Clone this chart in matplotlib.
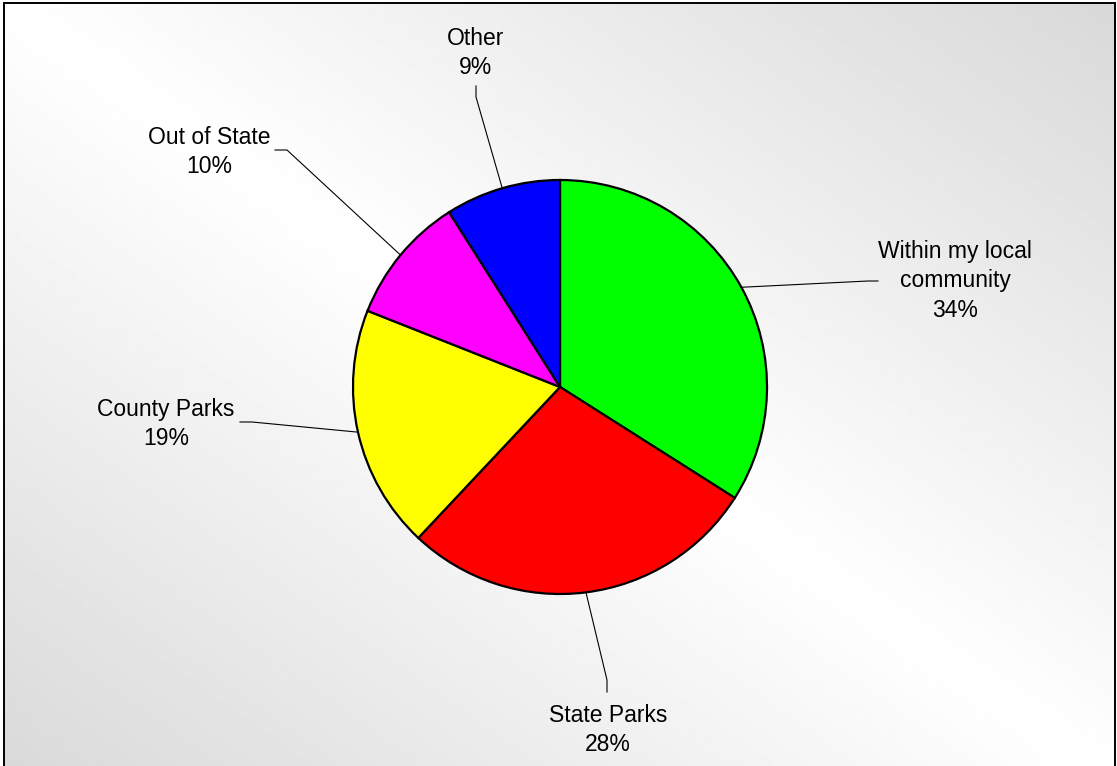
import numpy as np
import matplotlib.pyplot as plt
from matplotlib.patches import Rectangle

# Where people spend their outdoor time
categories = ["Within my local\ncommunity", "State Parks", "County Parks", "Out of State", "Other"]
shares = [34, 28, 19, 10, 9]
colors = ["#00ff00", "#ff0000", "#ffff00", "#ff00ff", "#0000ff"]

W, H = 1117, 766
plt.rcParams['font.family'] = ['Liberation Sans', 'DejaVu Sans']


def px(x, y):
    # pixel coordinates (y down) -> axes data coordinates (y up)
    return x, H - y


fig = plt.figure(figsize=(W / 100, H / 100), dpi=100)
ax = fig.add_axes([0, 0, 1, 1])

# diagonal gradient background: white along the main diagonal, grey toward the other corners
left, top, right, bottom = 4, 3, 1115, 780
gx = np.linspace(0, 1, 600)
gy = np.linspace(0, 1, 420)
u, v = np.meshgrid(gx, gy)
shade = 1 - 0.15 * np.abs(u - v)
ax.imshow(shade, cmap='gray', vmin=0, vmax=1, aspect='auto', origin='upper',
          extent=(left, right, H - bottom, H - top), zorder=0, interpolation='bilinear')
ax.add_patch(Rectangle((left, H - bottom), right - left, bottom - top,
                       fill=False, edgecolor='black', linewidth=1.4, zorder=5))

cx, cy = px(560, 387)
radius = 207
ax.pie(shares, colors=colors, startangle=90, counterclock=False,
       center=(cx, cy), radius=radius,
       wedgeprops=dict(edgecolor='black', linewidth=1.6))

# label text centres and leader elbows (pixel coords)
label_pos = [(955, 281), (608, 730), (166, 424), (209, 152), (476, 53)]
elbows = [[(868, 281), (878, 281)],
          [(607, 680), (607, 692)],
          [(252, 422), (240, 422)],
          [(287, 150), (275, 150)],
          [(476, 97), (476, 86)]]

total = sum(shares)
start = 0
for name, val, pos, elb in zip(categories, shares, label_pos, elbows):
    mid = (start + val / 2) / total
    start += val
    theta = np.deg2rad(90 - 360 * mid)
    ex, ey = cx + radius * np.cos(theta), cy + radius * np.sin(theta)
    xs = [ex] + [px(*p)[0] for p in elb]
    ys = [ey] + [px(*p)[1] for p in elb]
    ax.plot(xs, ys, color='black', linewidth=0.8, zorder=4)
    tx, ty = px(*pos)
    ax.text(tx, ty, f"{name}\n{val}%", ha='center', va='center',
            fontsize=16.5, linespacing=1.38, color='black', zorder=6)

ax.set_xlim(0, W)
ax.set_ylim(0, H)
ax.set_aspect('auto')
ax.axis('off')

fig.savefig("out.png", dpi=100, facecolor='white')
